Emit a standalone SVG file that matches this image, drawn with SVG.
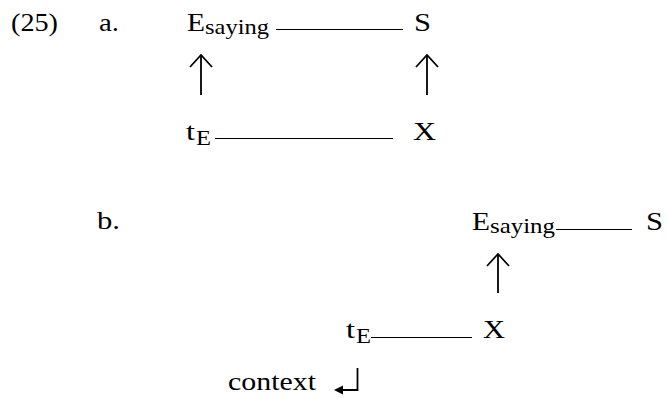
<svg xmlns="http://www.w3.org/2000/svg" width="668" height="399" viewBox="0 0 668 399">
<style>
.m{font-size:26px}
.s{font-size:21px}
.ln{stroke:#000;stroke-width:1.2;fill:none}
.ar{stroke:#000;stroke-width:1.8;fill:none;stroke-linecap:butt}
</style>
<defs>
<marker id="up" viewBox="0 0 14 24" refX="13" refY="12" markerWidth="14" markerHeight="24" markerUnits="userSpaceOnUse" orient="auto">
<path d="M1,1 L13,12 L1,23" stroke="#000" stroke-width="1.8" fill="none"/>
</marker>
</defs>
<rect width="668" height="399" fill="#fff"/>
<g font-family="Liberation Serif, Times New Roman, serif" fill="#000">
<g id="labels">
<text class="m" x="11" y="31" textLength="47" lengthAdjust="spacingAndGlyphs">(25)</text>
<text class="m" x="99" y="31" textLength="20" lengthAdjust="spacingAndGlyphs">a.</text>
<text class="m" x="97" y="229" textLength="23" lengthAdjust="spacingAndGlyphs">b.</text>
</g>
<g id="a-E">
<text class="m" x="187" y="31" textLength="18" lengthAdjust="spacingAndGlyphs">E</text>
<text class="s" x="205" y="34" textLength="64" lengthAdjust="spacingAndGlyphs">saying</text>
</g>
<g id="a-S"><text class="m" x="414" y="31" textLength="17" lengthAdjust="spacingAndGlyphs">S</text></g>
<g id="a-t">
<text class="m" x="186" y="140" textLength="9" lengthAdjust="spacingAndGlyphs">t</text>
<text class="s" x="196" y="145" textLength="15" lengthAdjust="spacingAndGlyphs">E</text>
</g>
<g id="a-X"><text class="m" x="413" y="140" textLength="23" lengthAdjust="spacingAndGlyphs">X</text></g>
<g id="b-E">
<text class="m" x="472" y="230" textLength="18" lengthAdjust="spacingAndGlyphs">E</text>
<text class="s" x="490" y="233" textLength="65" lengthAdjust="spacingAndGlyphs">saying</text>
</g>
<g id="b-S"><text class="m" x="646" y="230" textLength="17" lengthAdjust="spacingAndGlyphs">S</text></g>
<g id="b-t">
<text class="m" x="346" y="338" textLength="9" lengthAdjust="spacingAndGlyphs">t</text>
<text class="s" x="356" y="343" textLength="15" lengthAdjust="spacingAndGlyphs">E</text>
</g>
<g id="b-X"><text class="m" x="483" y="338" textLength="22" lengthAdjust="spacingAndGlyphs">X</text></g>
<g id="b-context"><text class="m" x="228" y="390" textLength="88" lengthAdjust="spacingAndGlyphs">context</text></g>
</g>
<g id="connectors">
<line class="ln" x1="276" y1="29.5" x2="403" y2="29.5"/>
<line class="ln" x1="215" y1="138.5" x2="393" y2="138.5"/>
<line class="ar" x1="201" y1="95" x2="201" y2="55" marker-end="url(#up)"/>
<line class="ar" x1="427" y1="95" x2="427" y2="55" marker-end="url(#up)"/>
<line class="ln" x1="556" y1="229.5" x2="632" y2="229.5"/>
<line class="ln" x1="371" y1="337.5" x2="472" y2="337.5"/>
<line class="ar" x1="498" y1="293" x2="498" y2="254" marker-end="url(#up)"/>
<path class="ar" d="M357.5,368 V390 H340"/>
<path d="M334,390 L343,385.5 L343,394.5 Z" fill="#000"/>
</g>
</svg>
